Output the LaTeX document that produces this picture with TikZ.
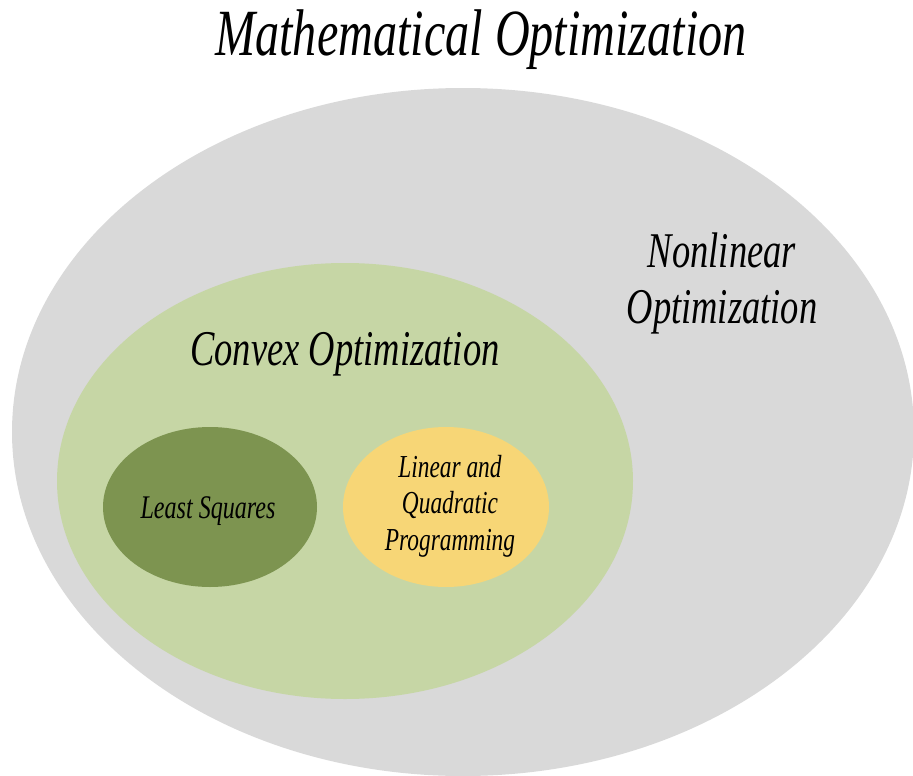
\documentclass[tikz,border=0pt]{standalone}
\usepackage{fontspec}
\setmainfont{Liberation Serif}
% condensed italic face used for every label
\newfontfamily\narrowit[FakeStretch=0.73]{Liberation Serif Italic}
\definecolor{outergray}{HTML}{D9D9D9}
\definecolor{convexgreen}{HTML}{C6D6A5}
\definecolor{lsqgreen}{HTML}{7D9450}
\definecolor{lpyellow}{HTML}{F7D676}
\newcommand{\lines}[1]{\begin{tabular}[t]{@{}c@{}}#1\end{tabular}}
\begin{document}
\begin{tikzpicture}[x=1pt,y=-1pt,
  label/.style={inner sep=0pt, anchor=base, text=black}]
\useasboundingbox (0,0) rectangle (913,776);
\begin{scope}
\clip (0,0) rectangle (913,776);
\fill[outergray] (463,432) ellipse[x radius=451, y radius=344];
\fill[convexgreen] (345,481) ellipse[x radius=288, y radius=218];
\fill[lsqgreen] (210,507) ellipse[x radius=107, y radius=80];
\fill[lpyellow] (446,507) ellipse[x radius=103, y radius=80];
\end{scope}
\node[label, font=\narrowit\fontsize{66}{70}\selectfont] (title) at (481,56) {Mathematical Optimization};
\node[label, font=\narrowit\fontsize{50}{56}\selectfont] (nonlin) at (722,267) {\lines{Nonlinear\\Optimization}};
\node[label, font=\narrowit\fontsize{50}{56}\selectfont] (convex) at (345,365) {Convex Optimization};
\node[label, font=\narrowit\fontsize{33}{36}\selectfont] (lsq) at (208,518) {Least Squares};
\node[label, font=\narrowit\fontsize{32}{36.5}\selectfont] (lp) at (450,477) {\lines{Linear and\\Quadratic\\Programming}};
\end{tikzpicture}
\end{document}
